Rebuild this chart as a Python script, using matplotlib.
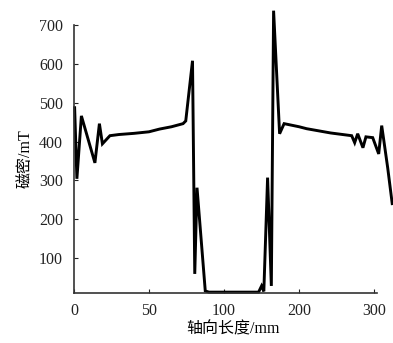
import matplotlib.pyplot as plt
import numpy as np

plt.rcParams['font.family'] = ['Liberation Serif', 'Noto Sans CJK SC']

# axial position (mm) and flux density (mT) along the probe
pos = [0.5, 2, 5, 14, 17, 19, 24, 30, 40, 50, 57, 65, 72.7,
       74.5, 79, 80.5, 82, 87.5, 90, 100, 110, 120, 123, 125, 126.5,
       129, 131.5, 133, 137, 140, 150, 155, 171, 185, 187, 189, 192.5,
       194.5, 199, 203, 205, 209, 212]
flux = [487, 304, 466, 345, 446, 394, 415, 418, 421, 425, 432, 438, 446,
        453, 608, 59, 281, 15, 12, 12, 12, 12, 12, 28, 14,
        307, 28, 737, 420, 446, 438, 433, 422, 415, 397, 420, 384,
        412, 410, 368, 441, 332, 240]

xtick_pos = [0, 50, 100, 150, 200]
xtick_labels = ['0', '50', '100', '200', '300']
ytick_vals = [100, 200, 300, 400, 500, 600, 700]

fig = plt.figure(figsize=(3.93, 3.43), dpi=100)
ax = fig.add_axes([0.188, 0.146, 0.81, 0.781])

ax.plot(pos, flux, color='black', lw=2.1, clip_on=False, solid_joinstyle='miter')

ax.set_xlim(0, 212)
ax.set_ylim(10, 700)
ax.spines['top'].set_visible(False)
ax.spines['right'].set_visible(False)
ax.spines['bottom'].set_bounds(0, 202)
for s in ('left', 'bottom'):
    ax.spines[s].set_color('#333333')
    ax.spines[s].set_linewidth(1.2)

ax.set_xticks(xtick_pos)
ax.set_xticklabels(xtick_labels)
ax.set_yticks(ytick_vals)
ax.tick_params(axis='both', direction='in', length=3, labelsize=11.5,
               colors='#222222')
ax.tick_params(axis='x', pad=7)
ax.tick_params(axis='y', pad=8)

ax.set_xlabel('轴向长度/mm', fontsize=11.5, labelpad=2)
ax.set_ylabel('磁密/mT', fontsize=11.5, labelpad=4)

fig.savefig('out.png', dpi=100)
